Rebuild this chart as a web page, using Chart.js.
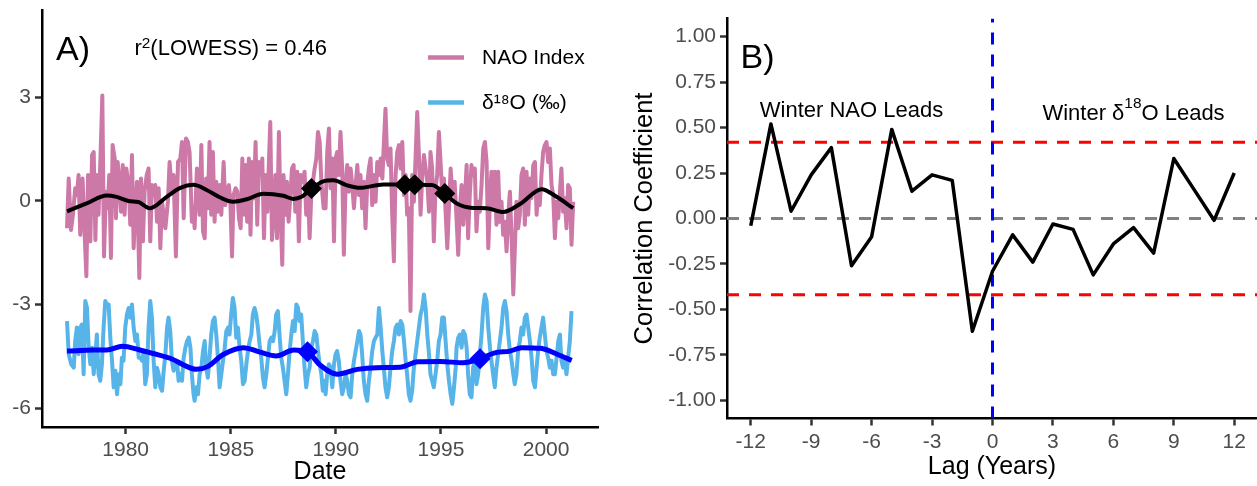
<!DOCTYPE html>
<html lang="en">
<head>
<meta charset="utf-8">
<script src="https://cdn.jsdelivr.net/npm/chart.js@4.4.1/dist/chart.umd.min.js"></script>
<style>
  html, body { margin: 0; padding: 0; background: #ffffff; }
  #page { position: relative; width: 1257px; height: 486px; overflow: hidden; background: #ffffff; }
  #chartA { position: absolute; left: 0; top: 0; }
  #chartB { position: absolute; left: 620px; top: 0; }
</style>
</head>
<body>
<div id="page">
  <canvas id="chartA" width="615" height="486"></canvas>
  <canvas id="chartB" width="637" height="486"></canvas>
</div>
<script>
const FONT = "'Liberation Sans', Arial, Helvetica, sans-serif";

// ---- Panel A: NAO index and δ18O record, [decimal year, value] ----
const naoIndex = [
  [1977.21,-0.79],[1977.29,0.65],[1977.40,-0.84],[1977.49,-0.40],[1977.60,0.37],[1977.68,0.17],[1977.76,0.75],[1977.84,-0.98],
  [1977.95,0.65],[1978.05,-0.98],[1978.13,-2.18],[1978.21,0.75],[1978.32,-1.17],[1978.40,1.33],[1978.48,1.42],[1978.56,-1.13],
  [1978.63,0.75],[1978.71,-0.40],[1978.81,1.42],[1978.89,3.06],[1978.97,-1.61],[1979.06,0.27],[1979.14,-0.21],[1979.22,0.75],
  [1979.30,-1.65],[1979.38,1.62],[1979.48,1.23],[1979.54,-0.50],[1979.62,1.13],[1979.70,0.56],[1979.78,-0.31],[1979.86,1.04],
  [1979.95,-0.40],[1980.03,0.94],[1980.14,0.46],[1980.22,-0.69],[1980.30,1.33],[1980.38,-1.37],[1980.46,-0.21],[1980.54,0.56],
  [1980.65,-2.23],[1980.73,0.65],[1980.82,-1.17],[1980.90,0.27],[1981.00,0.75],[1981.09,0.94],[1981.17,-1.17],[1981.25,0.46],
  [1981.35,0.17],[1981.41,0.46],[1981.49,-0.60],[1981.57,0.37],[1981.65,-1.37],[1981.73,-0.02],[1981.89,-0.79],[1982.01,-0.02],
  [1982.09,1.13],[1982.20,0.27],[1982.28,0.75],[1982.39,-1.61],[1982.49,1.13],[1982.60,1.23],[1982.68,1.71],[1982.76,-0.50],
  [1982.87,1.81],[1982.96,1.71],[1983.04,1.42],[1983.15,-0.60],[1983.23,-0.21],
  [1983.28,-0.79],[1983.39,0.94],[1983.52,-0.40],[1983.60,1.62],[1983.68,-0.88],[1983.76,-1.08],[1983.83,0.65],[1983.91,-0.21],
  [1983.99,1.71],[1984.07,-0.40],[1984.15,1.42],[1984.23,-0.60],[1984.31,0.56],[1984.39,-0.31],[1984.47,0.46],[1984.55,-0.40],
  [1984.66,1.13],[1984.74,-0.12],[1984.83,0.27],[1984.91,0.46],[1984.98,-0.02],[1985.06,-1.61],[1985.13,0.17],[1985.23,0.37],
  [1985.31,0.27],[1985.39,-0.50],[1985.47,-0.79],[1985.55,1.23],[1985.63,-0.40],[1985.71,1.04],[1985.78,-0.60],[1985.86,1.23],
  [1985.94,-0.98],[1986.02,1.13],[1986.10,0.08],[1986.18,1.71],[1986.26,-0.69],[1986.34,1.13],[1986.42,0.75],[1986.50,1.23],
  [1986.58,-1.08],[1986.66,0.75],[1986.74,-0.31],[1986.82,1.23],[1986.88,2.29],[1986.96,-1.13],[1987.04,-0.40],[1987.12,0.75],
  [1987.20,-1.08],[1987.29,2.00],[1987.37,-0.40],[1987.45,-1.85],[1987.51,0.75],[1987.61,-0.40],[1987.67,0.56],[1987.75,-0.60],
  [1987.83,0.08],[1987.91,0.94],[1987.99,1.04],[1988.07,-0.31],[1988.16,0.85],[1988.24,-1.17],[1988.32,0.75],[1988.43,0.56],
  [1988.51,0.85],[1988.59,-0.40],[1988.67,0.46],[1988.75,-1.08],[1988.83,0.17],[1988.91,0.56],[1988.99,0.94],[1989.07,1.23],
  [1989.15,2.00],[1989.23,1.71],[1989.31,0.56],[1989.42,-0.21],
  [1989.51,-0.21],[1989.59,1.42],[1989.67,2.10],[1989.75,0.37],[1989.83,1.23],[1989.91,-1.17],[1989.99,1.23],[1990.06,1.42],
  [1990.14,0.75],[1990.22,2.00],[1990.30,0.94],[1990.38,-1.56],[1990.46,0.46],[1990.54,1.04],[1990.62,0.27],[1990.70,0.94],
  [1990.78,0.46],[1990.86,-0.21],[1990.94,0.46],[1991.02,1.04],[1991.10,0.17],[1991.17,0.75],[1991.25,-0.21],[1991.33,0.56],
  [1991.41,-0.79],[1991.49,0.46],[1991.57,0.94],[1991.65,1.23],[1991.73,-0.12],[1991.81,0.75],[1991.89,-0.02],[1991.97,1.13],
  [1992.05,0.75],[1992.13,1.23],[1992.21,0.65],[1992.28,1.62],[1992.36,2.67],[1992.44,1.23],[1992.52,1.04],[1992.60,1.52],
  [1992.68,-0.40],[1992.76,-1.75],[1992.84,0.75],[1992.92,1.42],[1993.00,1.62],[1993.08,0.94],[1993.16,1.71],[1993.24,0.17],
  [1993.32,0.75],[1993.39,-0.40],[1993.47,-0.21],[1993.55,-3.19],[1993.63,0.75],[1993.71,-0.02],[1993.79,1.23],[1993.87,2.58],
  [1993.95,1.33],[1994.03,-0.40],[1994.11,0.75],[1994.19,1.33],[1994.27,0.94],[1994.35,0.56],[1994.43,-0.31],[1994.50,1.42],
  [1994.58,0.94],[1994.66,-1.17],[1994.74,0.37],[1994.82,0.75],[1994.90,2.00],[1994.98,1.13],[1995.06,0.17],[1995.14,0.65],
  [1995.22,-0.31],[1995.30,-1.37],[1995.38,-0.21],[1995.46,0.94],[1995.54,0.17],[1995.65,0.56],
  [1995.74,-0.50],[1995.82,-1.56],[1995.90,-0.21],[1995.98,0.46],[1996.06,-0.69],[1996.14,0.08],[1996.22,1.04],[1996.29,-1.08],
  [1996.37,0.17],[1996.45,1.04],[1996.53,0.75],[1996.61,0.94],[1996.69,-0.88],[1996.77,-0.02],[1996.85,-0.31],[1996.93,0.46],
  [1997.01,1.52],[1997.09,1.71],[1997.17,1.13],[1997.25,-1.37],[1997.33,-0.02],[1997.40,0.85],[1997.48,-0.21],[1997.56,0.85],
  [1997.64,-0.69],[1997.72,0.85],[1997.80,-0.60],[1997.88,-0.02],[1997.96,-0.98],[1998.04,-0.60],[1998.12,-1.46],[1998.20,-0.40],
  [1998.28,0.27],[1998.36,-1.08],[1998.44,-2.71],[1998.51,-1.46],[1998.59,-0.02],[1998.67,-0.79],[1998.75,-0.40],[1998.83,0.75],
  [1998.91,0.94],[1998.99,-0.69],[1999.07,0.85],[1999.15,-0.40],[1999.23,0.65],[1999.31,0.08],[1999.39,1.04],[1999.47,1.13],
  [1999.55,-0.40],[1999.62,0.27],[1999.70,-0.12],[1999.78,0.75],[1999.86,1.42],[1999.94,1.62],[2000.02,1.71],[2000.10,1.13],
  [2000.18,1.52],[2000.26,0.46],[2000.34,0.17],[2000.42,-1.08],[2000.50,-0.02],[2000.58,-0.50],[2000.66,0.27],[2000.73,0.94],
  [2000.81,-0.31],[2000.89,0.08],[2000.97,-0.79],[2001.05,0.46],[2001.13,0.37],[2001.21,-1.27],[2001.29,-0.02]
];

const d18O = [
  [1977.21,-3.48],[1977.29,-4.44],[1977.41,-4.73],[1977.53,-4.83],[1977.60,-4.06],[1977.68,-3.67],[1977.76,-4.44],[1977.84,-3.67],
  [1977.92,-3.58],[1978.00,-5.02],[1978.08,-2.90],[1978.16,-3.10],[1978.24,-4.25],[1978.32,-4.73],[1978.40,-4.25],[1978.48,-5.02],
  [1978.56,-4.44],[1978.63,-3.87],[1978.71,-5.02],[1978.79,-5.21],[1978.87,-4.73],[1978.95,-3.67],[1979.03,-2.90],[1979.11,-3.00],
  [1979.19,-3.00],[1979.27,-3.96],[1979.35,-4.63],[1979.43,-5.40],[1979.51,-4.92],[1979.59,-5.60],[1979.67,-5.02],[1979.75,-5.31],
  [1979.82,-4.54],[1979.90,-4.63],[1979.98,-3.67],[1980.06,-3.29],[1980.14,-3.10],[1980.22,-3.38],[1980.30,-3.00],[1980.38,-3.67],
  [1980.46,-4.06],[1980.54,-3.87],[1980.62,-4.54],[1980.70,-4.54],[1980.78,-4.63],[1980.86,-4.35],[1980.93,-5.31],[1981.01,-5.02],
  [1981.09,-3.67],[1981.17,-2.90],[1981.25,-3.38],[1981.33,-4.63],[1981.41,-5.40],[1981.49,-4.83],[1981.57,-5.02],[1981.65,-5.40],
  [1981.73,-5.50],[1981.81,-4.92],[1981.89,-4.44],[1981.97,-3.67],[1982.04,-3.38],[1982.12,-3.77],[1982.20,-4.63],[1982.28,-4.92],
  [1982.36,-4.73],[1982.44,-4.63],[1982.52,-5.21],[1982.60,-5.02],[1982.68,-5.21],[1982.76,-4.54],[1982.84,-4.25],[1982.92,-4.06],
  [1983.00,-3.96],[1983.08,-4.25],[1983.15,-5.02],[1983.23,-5.60],
  [1983.28,-5.79],[1983.36,-5.40],[1983.44,-5.60],[1983.52,-5.02],[1983.60,-4.83],[1983.68,-4.35],[1983.76,-4.06],[1983.83,-4.83],
  [1983.91,-5.12],[1983.99,-4.54],[1984.07,-3.87],[1984.15,-3.48],[1984.23,-3.38],[1984.31,-3.87],[1984.39,-4.54],[1984.47,-5.40],
  [1984.55,-5.02],[1984.63,-4.63],[1984.71,-4.25],[1984.79,-3.77],[1984.87,-3.67],[1984.94,-3.87],[1985.02,-3.29],[1985.10,-2.81],
  [1985.18,-3.10],[1985.26,-3.96],[1985.34,-3.67],[1985.42,-4.25],[1985.50,-4.63],[1985.58,-5.31],[1985.66,-5.21],[1985.74,-4.73],
  [1985.82,-4.35],[1985.90,-4.06],[1985.98,-3.87],[1986.05,-3.29],[1986.13,-3.10],[1986.21,-3.29],[1986.29,-3.67],[1986.37,-4.15],
  [1986.45,-4.54],[1986.53,-5.12],[1986.61,-5.40],[1986.69,-5.02],[1986.77,-4.54],[1986.85,-4.06],[1986.93,-3.96],[1987.01,-4.06],
  [1987.09,-3.77],[1987.16,-3.29],[1987.24,-3.19],[1987.32,-3.87],[1987.40,-4.54],[1987.48,-4.83],[1987.56,-5.21],[1987.64,-5.60],
  [1987.72,-5.02],[1987.80,-4.35],[1987.88,-3.87],[1987.96,-3.48],[1988.04,-3.77],[1988.12,-3.00],[1988.20,-3.10],[1988.27,-3.48],
  [1988.35,-3.29],[1988.43,-4.06],[1988.51,-4.83],[1988.59,-5.40],[1988.67,-5.02],[1988.75,-4.83],[1988.83,-4.25],[1988.91,-4.06],
  [1988.99,-3.77],[1989.07,-3.87],[1989.15,-4.35],[1989.23,-4.73],[1989.31,-5.02],[1989.38,-5.50],[1989.46,-5.21],
  [1989.51,-5.60],[1989.59,-5.02],[1989.67,-4.73],[1989.75,-4.83],[1989.83,-5.40],[1989.91,-4.73],[1989.99,-4.44],[1990.06,-4.35],
  [1990.14,-4.63],[1990.22,-5.21],[1990.30,-5.60],[1990.38,-5.40],[1990.46,-5.02],[1990.54,-5.21],[1990.62,-5.60],[1990.70,-5.69],
  [1990.78,-5.02],[1990.86,-4.63],[1990.94,-4.35],[1991.02,-4.06],[1991.10,-3.77],[1991.17,-3.87],[1991.25,-4.44],[1991.33,-5.21],
  [1991.41,-5.60],[1991.49,-5.79],[1991.57,-5.21],[1991.65,-4.83],[1991.73,-4.35],[1991.81,-4.06],[1991.89,-3.96],[1991.97,-3.87],
  [1992.05,-3.10],[1992.13,-3.67],[1992.21,-4.35],[1992.28,-4.83],[1992.36,-5.40],[1992.44,-5.69],[1992.52,-5.40],[1992.60,-4.83],
  [1992.68,-4.35],[1992.76,-4.06],[1992.84,-3.67],[1992.92,-3.58],[1993.00,-3.87],[1993.08,-3.48],[1993.16,-3.58],[1993.24,-4.06],
  [1993.32,-4.63],[1993.39,-5.02],[1993.47,-5.60],[1993.55,-5.79],[1993.63,-5.50],[1993.71,-4.83],[1993.79,-4.44],[1993.87,-4.06],
  [1993.95,-3.67],[1994.03,-3.29],[1994.11,-3.10],[1994.19,-2.71],[1994.27,-3.10],[1994.35,-3.87],[1994.43,-4.44],[1994.50,-5.02],
  [1994.58,-5.21],[1994.66,-5.40],[1994.74,-5.02],[1994.82,-4.63],[1994.90,-4.06],[1994.98,-3.87],[1995.06,-3.38],[1995.14,-3.38],
  [1995.22,-4.06],[1995.30,-4.73],[1995.38,-5.21],[1995.46,-5.60],[1995.54,-5.88],[1995.62,-5.40],[1995.70,-4.83],
  [1995.74,-4.25],[1995.82,-3.96],[1995.90,-3.87],[1995.98,-4.25],[1996.06,-3.77],[1996.14,-3.87],[1996.22,-4.25],[1996.29,-5.02],
  [1996.37,-5.60],[1996.45,-5.69],[1996.53,-4.83],[1996.61,-4.63],[1996.69,-5.31],[1996.77,-5.02],[1996.85,-4.44],[1996.93,-3.87],
  [1997.01,-3.10],[1997.09,-2.71],[1997.17,-2.90],[1997.25,-3.67],[1997.33,-4.25],[1997.40,-4.63],[1997.48,-5.02],[1997.56,-5.40],
  [1997.64,-4.83],[1997.72,-4.44],[1997.80,-4.06],[1997.88,-3.67],[1997.96,-3.10],[1998.04,-2.90],[1998.12,-3.19],[1998.20,-3.87],
  [1998.28,-4.35],[1998.36,-4.63],[1998.44,-5.02],[1998.51,-5.31],[1998.59,-5.02],[1998.67,-4.35],[1998.75,-4.06],[1998.83,-3.67],
  [1998.91,-3.87],[1998.99,-3.38],[1999.07,-3.29],[1999.15,-3.67],[1999.23,-4.06],[1999.31,-4.54],[1999.39,-5.21],[1999.47,-5.40],
  [1999.55,-4.83],[1999.62,-4.35],[1999.70,-3.96],[1999.78,-3.67],[1999.86,-3.38],[1999.94,-3.87],[2000.02,-4.35],[2000.10,-4.54],
  [2000.18,-4.83],[2000.26,-4.63],[2000.34,-5.02],[2000.42,-5.02],[2000.50,-4.54],[2000.58,-4.06],[2000.66,-3.87],[2000.73,-4.63],
  [2000.81,-4.83],[2000.89,-4.63],[2000.97,-5.02],[2001.05,-4.54],[2001.13,-4.06],[2001.21,-3.19]
];

// LOWESS fits of the two records
const naoLowess = [
  [1977.21,-0.30],[1978.14,-0.07],[1979.10,0.16],[1979.57,0.12],[1980.14,0.00],[1980.60,-0.03],[1981.16,-0.21],[1981.95,0.12],
  [1982.60,0.38],[1983.22,0.47],[1983.85,0.32],[1984.50,0.10],[1985.12,-0.02],[1985.76,0.05],[1986.55,0.21],[1987.50,0.15],
  [1987.97,0.06],[1988.37,0.12],[1988.84,0.36],[1989.40,0.57],[1989.88,0.60],[1990.50,0.46],[1991.15,0.38],[1992.26,0.48],
  [1993.28,0.47],[1993.75,0.47],[1994.56,0.46],[1995.18,0.22],[1995.75,-0.07],[1996.54,-0.20],[1997.17,-0.21],[1997.96,-0.32],
  [1998.76,-0.09],[1999.79,0.34],[2000.50,0.12],[2001.29,-0.21]
];
const d18OLowess = [
  [1977.21,-4.35],[1978.46,-4.32],[1979.10,-4.32],[1979.85,-4.21],[1980.68,-4.32],[1981.30,-4.42],[1982.20,-4.58],[1982.85,-4.78],
  [1983.35,-4.88],[1983.90,-4.80],[1984.64,-4.45],[1985.60,-4.25],[1986.39,-4.38],[1987.16,-4.49],[1988.00,-4.32],[1988.65,-4.37],
  [1989.24,-4.75],[1990.06,-5.02],[1991.02,-4.88],[1991.94,-4.83],[1993.05,-4.82],[1993.90,-4.66],[1994.98,-4.65],[1996.06,-4.69],
  [1996.86,-4.57],[1997.56,-4.40],[1998.28,-4.35],[1998.84,-4.25],[1999.75,-4.27],[2000.55,-4.45],[2001.22,-4.62]
];
// highlighted points on the fits
const naoMarks = [[1988.84,0.36],[1993.28,0.47],[1993.75,0.47],[1995.18,0.22]];
const d18OMarks = [[1988.65,-4.37],[1996.86,-4.57]];

const yearTicks = [1980, 1985, 1990, 1995, 2000];
const yearTickLabels = ['1980', '1985', '1990', '1995', '2000'];
const valueTicks = [-6, -3, 0, 3];
const valueTickLabels = ['-6', '-3', '0', '3'];
const r2Lowess = 0.46;

// ---- Panel B: lagged correlation between winter NAO and δ18O ----
const lags = [-12,-11,-10,-9,-8,-7,-6,-5,-4,-3,-2,-1,0,1,2,3,4,5,6,7,8,9,10,11,12];
const lagCorr = [-0.04,0.52,0.04,0.24,0.39,-0.26,-0.10,0.49,0.15,0.24,0.21,-0.62,-0.29,
                 -0.09,-0.24,-0.03,-0.06,-0.31,-0.14,-0.05,-0.19,0.33,0.16,-0.01,0.25];
const lagTicks = [-12,-9,-6,-3,0,3,6,9,12];
const lagTickLabels = ['-12','-9','-6','-3','0','3','6','9','12'];
const corrTicks = [-1,-0.75,-0.5,-0.25,0,0.25,0.5,0.75,1];
const corrTickLabels = ['-1.00','-0.75','-0.50','-0.25','0.00','0.25','0.50','0.75','1.00'];
const sigLevel = 0.42;

// ---- helpers ----
const xy = pairs => pairs.map(p => ({ x: p[0], y: p[1] }));

function axis(ticks, labels, min, max, size, title) {
  const cfg = {
    type: 'linear', min, max,
    afterBuildTicks: s => { s.ticks = ticks.map(v => ({ value: v })); },
    // fixed box size, and no extra room reserved for end labels
    afterFit: s => {
      if (size.height !== undefined) s.height = size.height;
      if (size.width !== undefined) s.width = size.width;
      s.paddingTop = 0; s.paddingBottom = 0; s.paddingLeft = 0; s.paddingRight = 0;
    },
    grid: { display: true, drawOnChartArea: false, drawTicks: true, tickLength: 7, tickWidth: 2.5, tickColor: '#333333' },
    border: { display: true, color: '#000000', width: 2.5 },
    ticks: {
      autoSkip: false, maxRotation: 0, minRotation: 0, padding: 4,
      color: '#4D4D4D', font: { family: FONT, size: 21 },
      callback: (v, i) => labels[i]
    }
  };
  if (title) cfg.title = title;
  return cfg;
}

// text with superscript pieces: parts = [[text, isSup], ...]
function drawRich(ctx, parts, x, baseline, size, align, raise) {
  const supSize = size * 0.7;
  ctx.save();
  ctx.textAlign = 'left';
  ctx.textBaseline = 'alphabetic';
  const widths = parts.map(([t, sup]) => {
    ctx.font = `${sup ? supSize : size}px ${FONT}`;
    return ctx.measureText(t).width;
  });
  const total = widths.reduce((a, b) => a + b, 0);
  let cx = align === 'center' ? x - total / 2 : x;
  parts.forEach(([t, sup], i) => {
    ctx.font = `${sup ? supSize : size}px ${FONT}`;
    ctx.fillText(t, cx, sup ? baseline - raise : baseline);
    cx += widths[i];
  });
  ctx.restore();
}

const common = {
  responsive: false, animation: false, devicePixelRatio: 1, events: [],
  elements: {
    point: { radius: 0, hoverRadius: 0 },
    line: { tension: 0, fill: false, borderJoinStyle: 'round', borderCapStyle: 'butt' }
  },
  plugins: { legend: { display: false }, tooltip: { enabled: false } }
};

// ---- Panel A ----
const annotA = {
  id: 'annotA',
  afterDatasetsDraw(chart) {
    const { ctx } = chart;
    const sx = chart.scales.x, sy = chart.scales.y;
    ctx.save();
    ctx.fillStyle = '#000000';
    ctx.textAlign = 'left';
    ctx.textBaseline = 'alphabetic';
    ctx.font = `34px ${FONT}`;
    ctx.fillText('A)', 56, 60);
    drawRich(ctx, [['r', false], ['2', true], ['(LOWESS) = ' + r2Lowess.toFixed(2), false]],
      sx.getPixelForValue(1985.0), sy.getPixelForValue(4.45) + 8, 22, 'center', 7);
    // legend for the two records
    chart.data.datasets.filter(d => d.inLegend).forEach((d, i) => {
      const ly = 57.5 + i * 45;
      ctx.strokeStyle = d.borderColor;
      ctx.lineWidth = 4.5;
      ctx.beginPath();
      ctx.moveTo(428, ly);
      ctx.lineTo(464, ly);
      ctx.stroke();
      ctx.font = `21px ${FONT}`;
      ctx.textBaseline = 'middle';
      ctx.fillText(d.label, 482, ly + 1);
    });
    ctx.restore();
  }
};

new Chart(document.getElementById('chartA'), {
  type: 'line',
  data: {
    datasets: [
      { label: 'NAO Index', inLegend: true, data: xy(naoIndex), borderColor: '#CC79A7', borderWidth: 4, order: 5 },
      { label: 'δ¹⁸O (‰)', inLegend: true, data: xy(d18O), borderColor: '#56B4E9', borderWidth: 4, order: 4 },
      { label: 'NAO LOWESS', data: xy(naoLowess), borderColor: '#000000', borderWidth: 4, cubicInterpolationMode: 'monotone', order: 3 },
      { label: 'δ18O LOWESS', data: xy(d18OLowess), borderColor: '#0000FF', borderWidth: 5, cubicInterpolationMode: 'monotone', order: 2 },
      { label: 'NAO marks', data: xy(naoMarks), showLine: false, pointStyle: 'rectRot', pointRadius: 10.5,
        pointBackgroundColor: '#000000', pointBorderWidth: 0, order: 1 },
      { label: 'δ18O marks', data: xy(d18OMarks), showLine: false, pointStyle: 'rectRot', pointRadius: 10.5,
        pointBackgroundColor: '#0000FF', pointBorderWidth: 0, order: 1 }
    ]
  },
  options: Object.assign({}, common, {
    layout: { padding: { top: 10, right: 17, bottom: 0, left: 0 } },
    scales: {
      x: axis(yearTicks, yearTickLabels, 1976.02, 2002.47, { height: 59 },
        { display: true, text: 'Date', color: '#000000', font: { family: FONT, size: 25, lineHeight: 1.2 }, padding: { top: 0, bottom: -1.5 } }),
      y: axis(valueTicks, valueTickLabels, -6.55, 5.52, { width: 42 })
    }
  }),
  plugins: [annotA]
});

// ---- Panel B ----
const xMinB = -13.18, xMaxB = 13.13, yMinB = -1.1, yMaxB = 1.1;

const annotB = {
  id: 'annotB',
  afterDatasetsDraw(chart) {
    const { ctx } = chart;
    const sx = chart.scales.x, sy = chart.scales.y;
    ctx.save();
    ctx.fillStyle = '#000000';
    ctx.textAlign = 'left';
    ctx.textBaseline = 'alphabetic';
    ctx.font = `34px ${FONT}`;
    ctx.fillText('B)', 120.5, 68);
    drawRich(ctx, [['Winter NAO Leads', false]], sx.getPixelForValue(-7), sy.getPixelForValue(0.6) + 7.5, 22, 'center', 0);
    drawRich(ctx, [['Winter δ', false], ['18', true], ['O Leads', false]],
      sx.getPixelForValue(7), sy.getPixelForValue(0.6) + 10.2, 22, 'center', 11.5);
    ctx.restore();
  }
};

const refLine = (pts, color, order) => ({
  data: pts, borderColor: color, borderWidth: 3, borderDash: [12, 10], order
});

new Chart(document.getElementById('chartB'), {
  type: 'line',
  data: {
    datasets: [
      { label: 'Correlation', data: lags.map((l, i) => ({ x: l, y: lagCorr[i] })), borderColor: '#000000', borderWidth: 3.5, order: 1 },
      refLine([{ x: 0, y: yMinB }, { x: 0, y: yMaxB }], '#0000FF', 2),
      refLine([{ x: xMinB, y: sigLevel }, { x: xMaxB, y: sigLevel }], '#FF0000', 3),
      refLine([{ x: xMinB, y: -sigLevel }, { x: xMaxB, y: -sigLevel }], '#FF0000', 3),
      refLine([{ x: xMinB, y: 0 }, { x: xMaxB, y: 0 }], '#808080', 4)
    ]
  },
  options: Object.assign({}, common, {
    layout: { padding: { top: 18.5, right: 0, bottom: 0, left: 0 } },
    scales: {
      x: axis(lagTicks, lagTickLabels, xMinB, xMaxB, { height: 67.5 },
        { display: true, text: 'Lag (Years)', color: '#000000', font: { family: FONT, size: 25, lineHeight: 1.2 }, padding: { top: 0, bottom: 3.5 } }),
      y: axis(corrTicks, corrTickLabels, yMinB, yMaxB, { width: 107 },
        { display: true, text: 'Correlation Coefficient', color: '#000000', font: { family: FONT, size: 25.5, lineHeight: 1.2 }, padding: { top: 10, bottom: 0 } })
    }
  }),
  plugins: [annotB]
});
</script>
</body>
</html>
